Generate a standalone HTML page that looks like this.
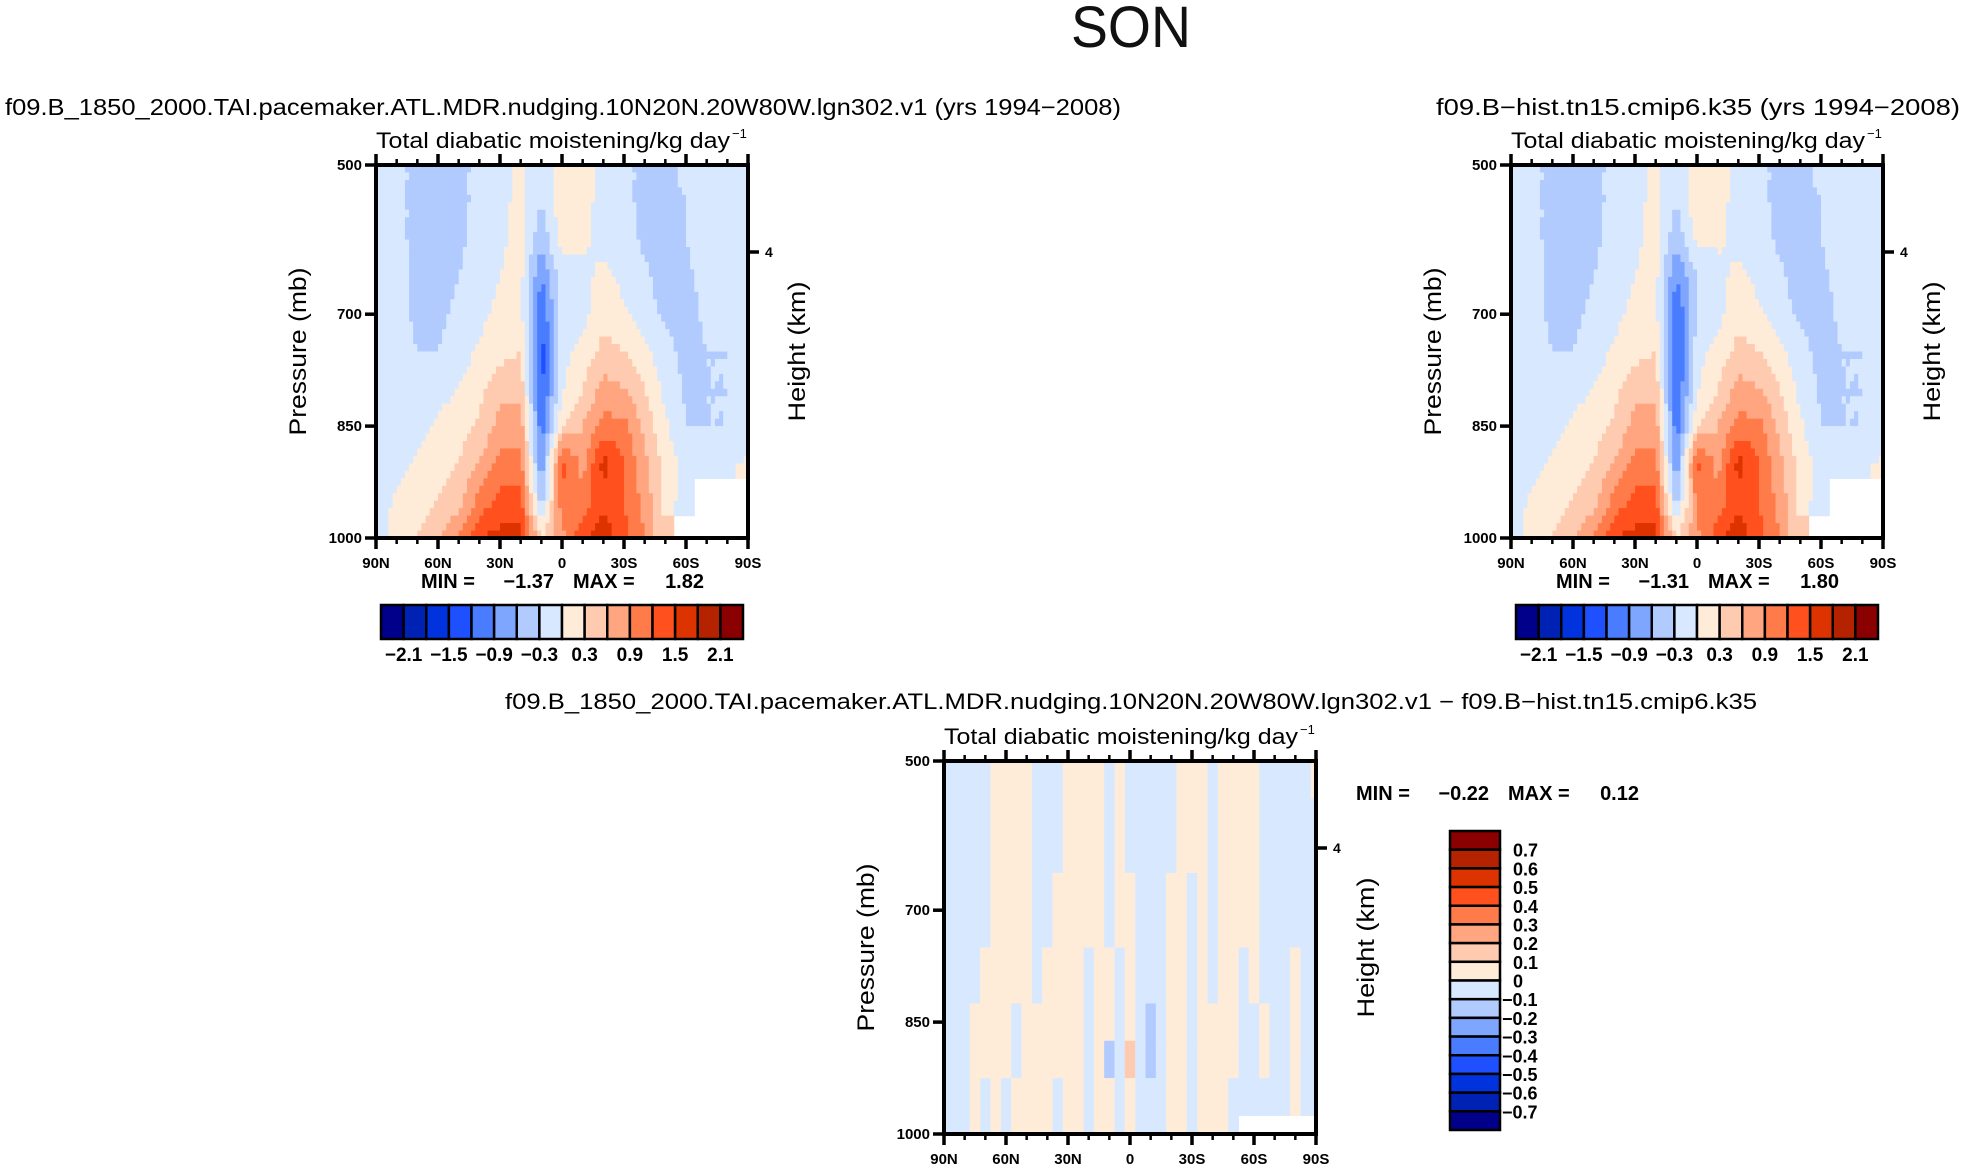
<!DOCTYPE html>
<html><head><meta charset="utf-8">
<style>
html,body{margin:0;padding:0;background:#fff;}
svg{display:block;font-family:"Liberation Sans",sans-serif;}
</style></head>
<body>
<svg id="fig" width="1965" height="1170" viewBox="0 0 1965 1170" xmlns="http://www.w3.org/2000/svg">
<text x="1131" y="47" font-size="58" text-anchor="middle" fill="#111" textLength="120" lengthAdjust="spacingAndGlyphs">SON</text>
<text x="5" y="115" font-size="23" fill="#000" textLength="1116" lengthAdjust="spacingAndGlyphs">f09.B_1850_2000.TAI.pacemaker.ATL.MDR.nudging.10N20N.20W80W.lgn302.v1 (yrs 1994−2008)</text>
<text x="1436" y="115" font-size="23" fill="#000" textLength="524" lengthAdjust="spacingAndGlyphs">f09.B−hist.tn15.cmip6.k35 (yrs 1994−2008)</text>
<text x="505" y="709" font-size="22" fill="#000" textLength="1252" lengthAdjust="spacingAndGlyphs">f09.B_1850_2000.TAI.pacemaker.ATL.MDR.nudging.10N20N.20W80W.lgn302.v1 − f09.B−hist.tn15.cmip6.k35</text>
<g id="pL"></g>
<g id="pR"></g>
<g id="pD"></g>
</svg>
<script>
// ---- data ----
const latsTop = [90,80,70,60,50,40,30,20,10,0,-10,-20,-30,-40,-50,-60,-70,-80,-90];
const presTop = [500,550,600,650,700,750,800,850,900,950,1000];
const valuesLeft = [
[-0.2,-0.2,-0.4,-0.4,-0.4,-0.2,-0.1,0.05,-0.2,0.1,0.1,-0.1,-0.2,-0.4,-0.4,-0.2,-0.2,-0.1,-0.1],
[-0.2,-0.2,-0.4,-0.4,-0.4,-0.2,-0.1,0.1,-0.3,0.2,0.1,-0.1,-0.2,-0.4,-0.4,-0.3,-0.2,-0.1,-0.1],
[-0.2,-0.2,-0.4,-0.4,-0.35,-0.2,-0.05,0.1,-0.5,0.1,0.05,-0.1,-0.2,-0.35,-0.4,-0.3,-0.2,-0.1,-0.1],
[-0.2,-0.2,-0.35,-0.4,-0.3,-0.2,0.0,0.1,-0.9,-0.1,-0.1,0.1,-0.1,-0.25,-0.4,-0.35,-0.2,-0.15,-0.1],
[-0.2,-0.2,-0.35,-0.35,-0.25,-0.1,0.1,0.1,-1.2,-0.1,-0.1,0.2,0.05,-0.2,-0.35,-0.4,-0.25,-0.3,-0.1],
[-0.2,-0.2,-0.3,-0.3,-0.15,0.05,0.2,0.3,-1.35,-0.1,0.1,0.4,0.3,0.1,-0.2,-0.4,-0.3,-0.3,-0.1],
[-0.2,-0.2,-0.2,-0.1,0.0,0.2,0.5,0.5,-1.3,-0.05,0.3,0.7,0.6,0.3,-0.1,-0.35,-0.3,-0.3,-0.1],
[-0.2,-0.15,-0.1,0.05,0.15,0.35,0.7,0.8,-1.1,0.3,0.6,1.0,1.0,0.5,0.05,-0.3,-0.3,-0.3,-0.1],
[-0.2,-0.1,0.05,0.15,0.3,0.6,1.0,1.0,-0.9,1.3,0.8,1.6,1.2,0.7,0.15,-0.1,-0.2,-0.2,0.05],
[-0.15,0.05,0.15,0.3,0.5,1.0,1.3,1.3,-0.5,1.1,1.0,1.4,1.2,0.8,0.2,-0.1,null,null,null],
[-0.1,0.1,0.3,0.6,0.9,1.5,1.6,1.6,0.3,0.8,1.4,1.7,1.3,0.9,0.3,null,null,null,null]];
const valuesRight = [
[-0.2,-0.2,-0.4,-0.4,-0.4,-0.2,-0.1,0.05,-0.2,0.1,0.1,-0.1,-0.2,-0.4,-0.4,-0.2,-0.2,-0.1,-0.1],
[-0.2,-0.2,-0.4,-0.4,-0.4,-0.2,-0.1,0.1,-0.3,0.2,0.1,-0.1,-0.2,-0.4,-0.4,-0.3,-0.2,-0.1,-0.1],
[-0.2,-0.2,-0.4,-0.4,-0.35,-0.2,-0.05,0.1,-0.5,0.05,0.05,-0.1,-0.2,-0.35,-0.4,-0.3,-0.2,-0.1,-0.1],
[-0.2,-0.2,-0.35,-0.4,-0.3,-0.2,0.0,0.1,-0.9,-0.3,-0.1,0.1,-0.1,-0.25,-0.4,-0.35,-0.2,-0.15,-0.1],
[-0.2,-0.2,-0.35,-0.35,-0.25,-0.1,0.1,0.1,-1.2,-0.3,-0.1,0.2,0.05,-0.2,-0.35,-0.4,-0.25,-0.3,-0.1],
[-0.2,-0.2,-0.3,-0.3,-0.15,0.05,0.2,0.3,-1.3,-0.1,0.1,0.4,0.3,0.1,-0.2,-0.4,-0.3,-0.3,-0.1],
[-0.2,-0.2,-0.2,-0.1,0.0,0.2,0.5,0.5,-1.25,-0.05,0.3,0.7,0.6,0.3,-0.1,-0.35,-0.3,-0.3,-0.1],
[-0.2,-0.15,-0.1,0.05,0.15,0.35,0.7,0.8,-1.1,0.3,0.6,1.0,1.0,0.5,0.05,-0.3,-0.3,-0.3,-0.1],
[-0.2,-0.1,0.05,0.15,0.3,0.6,1.0,1.0,-0.9,1.3,0.8,1.6,1.2,0.7,0.15,-0.1,-0.2,-0.2,0.05],
[-0.15,0.05,0.15,0.3,0.5,1.0,1.3,1.3,-0.5,1.0,1.0,1.4,1.2,0.8,0.2,-0.1,null,null,null],
[-0.1,0.1,0.3,0.6,0.9,1.5,1.6,1.6,0.3,0.8,1.4,1.7,1.3,0.9,0.3,null,null,null,null]];
const latsDiff = [90,85,80,75,70,65,60,55,50,45,40,35,30,25,20,15,10,5,0,-5,-10,-15,-20,-25,-30,-35,-40,-45,-50,-55,-60,-65,-70,-75,-80,-85,-90];
const presDiff = [500,600,700,800,850,900,950,1000];
const valuesDiff = [
[-0.05,-0.05,-0.05,-0.05,-0.03,0.04,0.05,0.05,0.04,-0.03,-0.04,-0.02,0.04,0.05,0.05,0.03,-0.03,0.03,-0.02,-0.05,-0.04,-0.03,-0.02,0.04,0.03,0.02,-0.04,0.03,0.05,0.04,0.02,-0.04,-0.05,-0.05,-0.04,-0.03,0.03],
[-0.05,-0.05,-0.05,-0.05,-0.03,0.04,0.05,0.05,0.04,-0.03,-0.04,-0.02,0.04,0.05,0.05,0.03,-0.03,0.03,-0.02,-0.05,-0.04,-0.03,-0.02,0.04,0.03,0.02,-0.04,0.03,0.05,0.04,0.02,-0.04,-0.05,-0.05,-0.04,-0.03,-0.02],
[-0.05,-0.05,-0.05,-0.05,-0.03,0.04,0.05,0.05,0.04,-0.03,-0.04,0.02,0.04,0.05,0.05,0.03,-0.03,0.03,0.02,-0.05,-0.04,-0.03,0.03,0.04,-0.02,0.02,-0.04,0.03,0.05,0.04,0.02,-0.04,-0.05,-0.05,-0.04,-0.03,-0.02],
[-0.05,-0.05,-0.05,-0.03,0.03,0.04,0.05,0.05,0.04,-0.03,0.03,0.02,0.04,0.05,-0.02,0.03,0.03,-0.03,0.02,-0.05,-0.04,-0.03,0.03,0.04,-0.02,0.02,-0.04,0.03,0.05,-0.03,0.02,-0.04,-0.05,-0.03,0.03,-0.03,-0.02],
[-0.05,-0.05,-0.04,0.03,0.03,0.04,0.05,-0.03,0.04,0.03,0.03,0.02,0.04,0.05,-0.02,0.03,0.03,-0.03,0.02,-0.05,-0.12,-0.03,0.03,0.04,-0.02,0.02,0.03,0.03,0.05,-0.03,-0.04,0.02,-0.05,-0.03,0.03,-0.03,-0.02],
[-0.05,-0.05,-0.04,0.03,0.03,0.04,0.05,-0.03,0.04,0.03,0.03,0.02,0.04,0.05,-0.02,0.03,-0.12,-0.03,0.12,-0.05,-0.15,-0.03,0.03,0.04,-0.02,0.02,0.03,0.03,0.05,-0.03,-0.04,0.02,-0.05,-0.03,0.03,-0.03,-0.02],
[-0.05,-0.05,-0.03,0.03,-0.03,0.04,-0.04,0.05,0.04,0.03,0.03,-0.02,0.04,0.05,-0.02,0.03,0.03,-0.03,0.02,-0.05,-0.04,-0.03,0.03,0.04,-0.02,0.02,0.03,0.03,-0.03,-0.03,-0.04,-0.04,-0.04,-0.04,0.03,-0.03,-0.02],
[-0.05,-0.05,-0.03,0.03,-0.03,0.04,-0.04,0.05,0.04,0.03,0.03,-0.02,0.04,0.05,-0.02,0.03,0.03,-0.03,0.02,-0.05,-0.04,-0.03,0.03,0.04,-0.02,0.02,0.03,0.03,-0.03,null,null,null,null,null,null,null,null]];
const levelsTop = [-2.1,-1.8,-1.5,-1.2,-0.9,-0.6,-0.3,0,0.3,0.6,0.9,1.2,1.5,1.8,2.1];
const levelsDiff = [-0.7,-0.6,-0.5,-0.4,-0.3,-0.2,-0.1,0,0.1,0.2,0.3,0.4,0.5,0.6,0.7];
const cbLabelsTop = ["−2.1","−1.5","−0.9","−0.3","0.3","0.9","1.5","2.1"];
const cbLabelsDiff = ["0.7","0.6","0.5","0.4","0.3","0.2","0.1","0","−0.1","−0.2","−0.3","−0.4","−0.5","−0.6","−0.7"];
const latTicks = [90,60,30,0,-30,-60,-90];
const latTickLabels = ["90N","60N","30N","0","30S","60S","90S"];
const presTicks = [500,700,850,1000];
const colors = ["#00008b","#0022b4","#0033dd","#1e50ff","#4a7cff","#7fa6ff","#b1cbff","#d8e9ff","#ffecd8","#ffcbb0","#ffa57f","#ff7c4a","#ff501e","#dd3300","#b42200","#8b0000"];

const NS="http://www.w3.org/2000/svg";
function mk(tag,attrs,parent,text){const e=document.createElementNS(NS,tag);for(const k in attrs)e.setAttribute(k,attrs[k]);if(text!==undefined)e.textContent=text;parent.appendChild(e);return e;}
function colorFor(v,levels){let i=0;while(i<levels.length&&v>=levels[i])i++;return colors[i];}

function drawPanel(g,box,lats,pres,vals,levels,sub,h4y,opts){
  const xs=lat=>box.L+(90-lat)/180*(box.R-box.L);
  const ys=p=>box.T+(p-500)/500*(box.B-box.T);
  const cells=mk('g',{},g);
  
  
  const nx=lats.length,ny=pres.length;
  if(sub===0){
    for(let j=0;j<ny;j++)for(let i=0;i<nx;i++){
      const v=vals[j][i]; if(v===null)continue;
      const la0=i===0?lats[0]:(lats[i-1]+lats[i])/2, la1=i===nx-1?lats[nx-1]:(lats[i]+lats[i+1])/2;
      const p0=j===0?pres[0]:(pres[j-1]+pres[j])/2, p1=j===ny-1?pres[ny-1]:(pres[j]+pres[j+1])/2;
      const x0=xs(la0),x1=xs(la1),y0=ys(p0),y1=ys(p1);
      const r=mk('rect',{x:x0.toFixed(2),y:y0.toFixed(2),width:(x1-x0+0.6).toFixed(2),height:(y1-y0+0.6).toFixed(2),fill:colorFor(v,levels)},cells);
      
      
    }
  } else
  for(let j=0;j<ny-1;j++)for(let i=0;i<nx-1;i++){
    const a=vals[j][i],b=vals[j][i+1],c=vals[j+1][i],d=vals[j+1][i+1];
    for(let sj=0;sj<sub;sj++)for(let si=0;si<sub;si++){
      const fx=(si+0.5)/sub,fy=(sj+0.5)/sub;
      let v;
      if(a===null||b===null||c===null||d===null){
        const ni=fx<0.5?i:i+1,nj=fy<0.5?j:j+1;v=vals[nj][ni];
      } else v=a*(1-fx)*(1-fy)+b*fx*(1-fy)+c*(1-fx)*fy+d*fx*fy;
      if(v===null)continue;
      const x0=xs(lats[i]+(lats[i+1]-lats[i])*si/sub),x1=xs(lats[i]+(lats[i+1]-lats[i])*(si+1)/sub);
      const y0=ys(pres[j]+(pres[j+1]-pres[j])*sj/sub),y1=ys(pres[j]+(pres[j+1]-pres[j])*(sj+1)/sub);
      const r=mk('rect',{x:x0.toFixed(2),y:y0.toFixed(2),width:(x1-x0+0.6).toFixed(2),height:(y1-y0+0.6).toFixed(2),fill:colorFor(v,levels)},cells);
      
      
    }
  }
  const fr=mk('rect',{x:box.L,y:box.T,width:box.R-box.L,height:box.B-box.T,fill:'none',stroke:'#000','stroke-width':4},g);
  
  
  for(let lat=90;lat>=-90;lat-=10){
    const major=lat%30===0,x=xs(lat),len=major?11:6;
    mk('line',{x1:x,x2:x,y1:box.B,y2:box.B+len,stroke:'#000','stroke-width':major?3.5:2.5},g);
    mk('line',{x1:x,x2:x,y1:box.T,y2:box.T-len,stroke:'#000','stroke-width':major?3.5:2.5},g);
  }
  latTicks.forEach((lat,k)=>{
    const t=mk('text',{x:xs(lat),y:box.B+30,'font-size':15,'font-weight':'bold','text-anchor':'middle'},g,latTickLabels[k]);
    
    
  });
  presTicks.forEach(p=>{
    mk('line',{x1:box.L,x2:box.L-11,y1:ys(p),y2:ys(p),stroke:'#000','stroke-width':3.5},g);
    const t=mk('text',{x:box.L-14,y:ys(p)+5,'font-size':15,'font-weight':'bold','text-anchor':'end'},g,String(p));
    
    
  });
  mk('line',{x1:box.R,x2:box.R+11,y1:h4y,y2:h4y,stroke:'#000','stroke-width':3.5},g);
  const t4=mk('text',{x:box.R+17,y:h4y+5,'font-size':14,'font-weight':'bold'},g,'4');
  
  
  const cy=(box.T+box.B)/2;
  const yl=mk('text',{x:-84,y:0,'font-size':24,textLength:168,lengthAdjust:'spacingAndGlyphs',transform:`translate(${opts.plx},${cy}) rotate(-90)`},g,'Pressure  (mb)');
  
  
  const hl=mk('text',{x:-70,y:0,'font-size':24,textLength:140,lengthAdjust:'spacingAndGlyphs',transform:`translate(${opts.hlx},${cy}) rotate(-90)`},g,'Height  (km)');
  
  
  const tt=mk('text',{x:box.L,y:box.T-17,'font-size':22,textLength:(box.R-box.L)-18,lengthAdjust:'spacingAndGlyphs'},g,'Total  diabatic  moistening/kg  day');
  
  
  const sup=mk('text',{x:box.R-16,y:box.T-27,'font-size':13},g,'−1');
  
  
}

function hColorbar(g,x0,x1,y0,y1,labels){
  const w=(x1-x0)/16;
  const cb=mk('g',{},g);
  
  
  for(let k=0;k<16;k++){
    const r=mk('rect',{x:x0+k*w,y:y0,width:w,height:y1-y0,fill:colors[k],stroke:'#000','stroke-width':2.5},cb);
    
    
  }
  labels.forEach((s,n)=>{
    const t=mk('text',{x:x0+(1+2*n)*w,y:y1+22,'font-size':19,'font-weight':'bold','text-anchor':'middle'},cb,s);
    
    
  });
}

const boxL={L:376,R:748,T:165,B:538};
const boxR={L:1511,R:1883,T:165,B:538};
const boxD={L:944,R:1316,T:761,B:1134};
const gL=document.getElementById('pL'),gR=document.getElementById('pR'),gD=document.getElementById('pD');
drawPanel(gL,boxL,latsTop,presTop,valuesLeft,levelsTop,5,252,{plx:306,hlx:805});
drawPanel(gR,boxR,latsTop,presTop,valuesRight,levelsTop,5,252,{plx:1441,hlx:1940});
drawPanel(gD,boxD,latsDiff,presDiff,valuesDiff,levelsDiff,0,848,{plx:874,hlx:1374});

function minmax(g,x,y,parts){
  parts.forEach(p=>{
    const t=mk('text',{x:x+p[0],y:y,'font-size':20,'font-weight':'bold','text-anchor':p[2]||'start'},g,p[1]);
    
    
  });
}
minmax(gL,421,588,[[0,'MIN ='],[133,'−1.37','end'],[152,'MAX ='],[283,'1.82','end']]);
minmax(gR,1556,588,[[0,'MIN ='],[133,'−1.31','end'],[152,'MAX ='],[283,'1.80','end']]);
minmax(gD,1356,800,[[0,'MIN ='],[133,'−0.22','end'],[152,'MAX ='],[283,'0.12','end']]);
hColorbar(gL,381,743,605,639,cbLabelsTop);
hColorbar(gR,1516,1878,605,639,cbLabelsTop);
(function(){
  const x0=1450,x1=1500,y0=831,y1=1130,h=(y1-y0)/16;
  const cb=mk('g',{},gD);
  
  
  for(let k=0;k<16;k++){
    const r=mk('rect',{x:x0,y:y0+k*h,width:x1-x0,height:h,fill:colors[15-k],stroke:'#000','stroke-width':2.5},cb);
    
    
  }
  cbLabelsDiff.forEach((s,n)=>{
    const t=mk('text',{x:s.startsWith('−')?1502:1513,y:y0+(n+1)*h+7,'font-size':18,'font-weight':'bold'},cb,s);
    
    
  });
})();
</script>
</body></html>
